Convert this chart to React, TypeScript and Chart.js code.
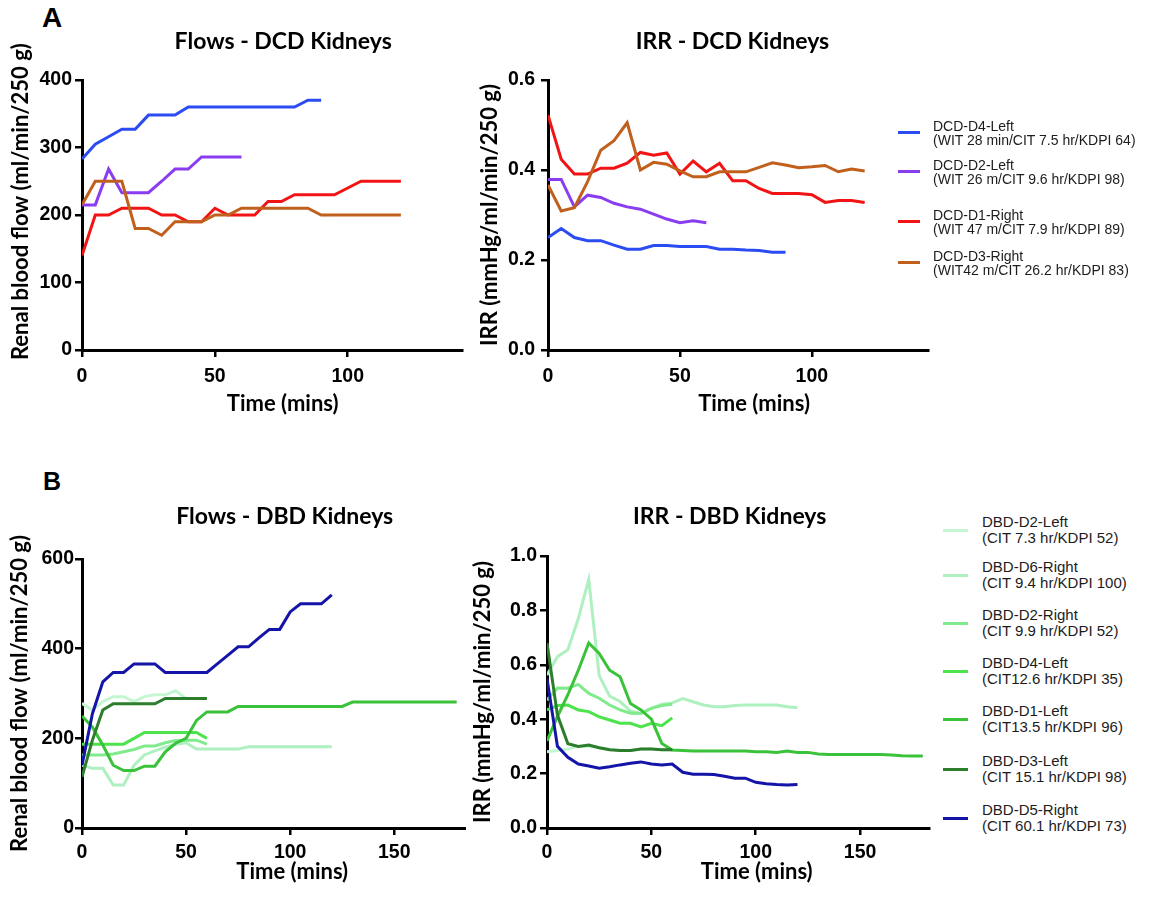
import React, { useEffect, useRef } from "react";
import { Chart, registerables } from "chart.js";

Chart.register(...registerables);

// ---------------- DATA ----------------
const time0to60 = [0, 5, 10, 15, 20, 25, 30, 35, 40, 45, 50, 55, 60];
const time0to90 = [0, 5, 10, 15, 20, 25, 30, 35, 40, 45, 50, 55, 60, 65, 70, 75, 80, 85, 90];
const time0to120 = [0, 5, 10, 15, 20, 25, 30, 35, 40, 45, 50, 55, 60, 65, 70, 75, 80, 85, 90, 95, 100, 105, 110, 115, 120];
const time0to180 = [0, 5, 10, 15, 20, 25, 30, 35, 40, 45, 50, 55, 60, 65, 70, 75, 80, 85, 90, 95, 100, 105, 110, 115, 120, 125, 130, 135, 140, 145, 150, 155, 160, 165, 170, 175, 180];

// Panel A legend
const dcdNames = ["DCD-D4-Left", "DCD-D2-Left", "DCD-D1-Right", "DCD-D3-Right"];
const dcdDetails = [
  "(WIT 28 min/CIT 7.5 hr/KDPI 64)",
  "(WIT 26 m/CIT 9.6 hr/KDPI 98)",
  "(WIT 47 m/CIT 7.9 hr/KDPI 89)",
  "(WIT42 m/CIT 26.2 hr/KDPI 83)",
];
const dcdColors = ["#2b4cf2", "#8a3df0", "#f21414", "#c0601c"];

// Flows - DCD (ml/min/250 g)
const dcdD4LeftFlow = [283, 305, 316, 327, 327, 348, 348, 348, 360, 360, 360, 360, 360, 360, 360, 360, 360, 370, 370];
const dcdD2LeftFlow = [215, 215, 268, 233, 233, 233, 250, 268, 268, 286, 286, 286, 286];
const dcdD1RightFlow = [140, 200, 200, 210, 210, 210, 200, 200, 190, 190, 210, 200, 200, 200, 220, 220, 230, 230, 230, 230, 240, 250, 250, 250, 250];
const dcdD3RightFlow = [215, 250, 250, 250, 180, 180, 170, 190, 190, 190, 200, 200, 210, 210, 210, 210, 210, 210, 200, 200, 200, 200, 200, 200, 200];

// IRR - DCD
const dcdD4LeftIrr = [0.25, 0.27, 0.25, 0.243, 0.243, 0.233, 0.224, 0.224, 0.232, 0.232, 0.23, 0.23, 0.23, 0.224, 0.224, 0.222, 0.221, 0.217, 0.217];
const dcdD2LeftIrr = [0.379, 0.379, 0.318, 0.344, 0.339, 0.326, 0.318, 0.313, 0.302, 0.291, 0.283, 0.287, 0.283];
const dcdD1RightIrr = [0.522, 0.424, 0.391, 0.391, 0.404, 0.404, 0.415, 0.439, 0.433, 0.438, 0.391, 0.42, 0.396, 0.415, 0.376, 0.376, 0.359, 0.348, 0.348, 0.348, 0.345, 0.328, 0.332, 0.332, 0.328];
const dcdD3RightIrr = [0.367, 0.309, 0.316, 0.374, 0.444, 0.465, 0.505, 0.4, 0.417, 0.413, 0.398, 0.385, 0.385, 0.396, 0.396, 0.396, 0.406, 0.416, 0.411, 0.405, 0.407, 0.41, 0.396, 0.402, 0.398];

// Panel B legend
const dbdNames = ["DBD-D2-Left", "DBD-D6-Right", "DBD-D2-Right", "DBD-D4-Left", "DBD-D1-Left", "DBD-D3-Left", "DBD-D5-Right"];
const dbdDetails = [
  "(CIT 7.3 hr/KDPI 52)",
  "(CIT 9.4 hr/KDPI 100)",
  "(CIT 9.9 hr/KDPI 52)",
  "(CIT12.6 hr/KDPI 35)",
  "(CIT13.5 hr/KDPI 96)",
  "(CIT 15.1 hr/KDPI 98)",
  "(CIT 60.1 hr/KDPI 73)",
];
const dbdColors = ["#c4f6d2", "#aef0c0", "#80ea8c", "#4de34d", "#3ac23a", "#2c7d2c", "#1414a8"];

// Flows - DBD (ml/min/250 g)
const dbdD2LeftFlow = [278, 263, 282, 293, 293, 282, 293, 297, 297, 306, 289, 289, 289];
const dbdD6RightFlow = [140, 133, 133, 96, 96, 140, 163, 172, 180, 187, 190, 176, 176, 176, 176, 176, 181, 181, 181, 181, 181, 181, 181, 181, 181];
const dbdD2RightFlow = [163, 163, 163, 165, 170, 175, 183, 183, 190, 195, 196, 196, 187];
const dbdD4LeftFlow = [187, 187, 187, 187, 187, 200, 213, 213, 213, 213, 213, 213, 200];
const dbdD1LeftFlow = [250, 225, 185, 140, 128, 128, 138, 138, 170, 189, 200, 240, 259, 259, 259, 271, 271, 271, 271, 271, 271, 271, 271, 271, 271, 271, 281, 281, 281, 281, 281, 281, 281, 281, 281, 281, 281];
const dbdD3LeftFlow = [114, 196, 263, 277, 277, 277, 277, 277, 289, 289, 289, 289, 289];
const dbdD5RightFlow = [140, 255, 326, 347, 347, 366, 366, 366, 347, 347, 347, 347, 347, 366, 385, 404, 404, 424, 443, 443, 482, 500, 500, 500, 520];

// IRR - DBD
const dbdD2LeftIrr = [0.28, 0.285, 0.29, 0.3, 0.3, 0.295, 0.29, 0.285, 0.285, 0.29, 0.29, 0.288, 0.288];
const dbdD6RightIrr = [0.562, 0.63, 0.655, 0.77, 0.914, 0.56, 0.485, 0.465, 0.43, 0.42, 0.44, 0.455, 0.46, 0.476, 0.464, 0.452, 0.446, 0.446, 0.45, 0.452, 0.452, 0.452, 0.452, 0.446, 0.442];
const dbdD2RightIrr = [0.47, 0.515, 0.514, 0.528, 0.495, 0.477, 0.452, 0.434, 0.422, 0.422, 0.44, 0.45, 0.455];
const dbdD4LeftIrr = [0.434, 0.45, 0.452, 0.434, 0.428, 0.409, 0.397, 0.385, 0.385, 0.372, 0.385, 0.376, 0.405];
const dbdD1LeftIrr = [0.32, 0.41, 0.49, 0.58, 0.68, 0.642, 0.58, 0.556, 0.458, 0.434, 0.4, 0.311, 0.287, 0.285, 0.283, 0.283, 0.283, 0.283, 0.283, 0.283, 0.28, 0.28, 0.278, 0.283, 0.278, 0.278, 0.272, 0.27, 0.27, 0.27, 0.27, 0.27, 0.27, 0.268, 0.266, 0.265, 0.265];
const dbdD3LeftIrr = [0.68, 0.415, 0.31, 0.3, 0.305, 0.295, 0.288, 0.285, 0.285, 0.29, 0.29, 0.288, 0.288];
const dbdD5RightIrr = [0.55, 0.3, 0.26, 0.235, 0.228, 0.22, 0.225, 0.232, 0.238, 0.243, 0.235, 0.232, 0.235, 0.205, 0.198, 0.198, 0.197, 0.19, 0.183, 0.183, 0.168, 0.163, 0.16, 0.158, 0.16];

// ---------------- SERIES TABLES ----------------
const dcdFlowSeries = [
  { times: time0to90, values: dcdD4LeftFlow },
  { times: time0to60, values: dcdD2LeftFlow },
  { times: time0to120, values: dcdD1RightFlow },
  { times: time0to120, values: dcdD3RightFlow },
];
const dcdIrrSeries = [
  { times: time0to90, values: dcdD4LeftIrr },
  { times: time0to60, values: dcdD2LeftIrr },
  { times: time0to120, values: dcdD1RightIrr },
  { times: time0to120, values: dcdD3RightIrr },
];
const dbdFlowSeries = [
  { times: time0to60, values: dbdD2LeftFlow },
  { times: time0to120, values: dbdD6RightFlow },
  { times: time0to60, values: dbdD2RightFlow },
  { times: time0to60, values: dbdD4LeftFlow },
  { times: time0to180, values: dbdD1LeftFlow },
  { times: time0to60, values: dbdD3LeftFlow },
  { times: time0to120, values: dbdD5RightFlow },
];
const dbdIrrSeries = [
  { times: time0to60, values: dbdD2LeftIrr },
  { times: time0to120, values: dbdD6RightIrr },
  { times: time0to60, values: dbdD2RightIrr },
  { times: time0to60, values: dbdD4LeftIrr },
  { times: time0to180, values: dbdD1LeftIrr },
  { times: time0to60, values: dbdD3LeftIrr },
  { times: time0to120, values: dbdD5RightIrr },
];

// ---------------- STYLE ----------------
const SANS = "'Liberation Sans', Arial, Helvetica, sans-serif";
const HEAD = "Lato, 'Open Sans', sans-serif";
const TITLE_SIZE = 23;
const AXIS_TITLE_SIZE = 22;
const TICK_SIZE = 19.5;

function padText(text: string, shift: number, size: number) {
  const c = document.createElement("canvas").getContext("2d")!;
  c.font = `bold ${size}px ${HEAD}`;
  const sw = c.measureText(" ").width || size * 0.2;
  const n = Math.round((Math.abs(shift) * 2) / sw);
  if (n <= 0) return text;
  return shift > 0 ? " ".repeat(n) + text : text + " ".repeat(n);
}

const panels = [
  {
    canvas: { left: 0, top: 0, width: 470, height: 425 },
    plot: { left: 82, top: 80, right: 462, bottom: 350 },
    title: "Flows - DCD Kidneys", titleY: 42, titleShift: 11,
    xMax: 143, yMax: 400, yStep: 100, yDec: 0, yTickPad: 3, xTickPad: 8,
    yTitle: "Renal blood flow (ml/min/250 g)", yTitleX: 21, yTitleUp: 14,
    xTitle: "Time (mins)", xTitleY: 404, xTitleShift: 12,
    series: dcdFlowSeries, colors: dcdColors, names: dcdNames,
  },
  {
    canvas: { left: 470, top: 0, width: 470, height: 425 },
    plot: { left: 548, top: 80, right: 928, bottom: 350 },
    title: "IRR - DCD Kidneys", titleY: 42, titleShift: -6,
    xMax: 144, yMax: 0.6, yStep: 0.2, yDec: 1, yTickPad: 6, xTickPad: 8,
    yTitle: "IRR (mmHg/ml/min/250 g)", yTitleX: 490, yTitleUp: 0,
    xTitle: "Time (mins)", xTitleY: 404, xTitleShift: 16,
    series: dcdIrrSeries, colors: dcdColors, names: dcdNames,
  },
  {
    canvas: { left: 0, top: 440, width: 466, height: 455 },
    plot: { left: 82, top: 559, right: 465, bottom: 828 },
    title: "Flows - DBD Kidneys", titleY: 517, titleShift: 10,
    xMax: 184, yMax: 600, yStep: 200, yDec: 0, yTickPad: 1, xTickPad: 6,
    yTitle: "Renal blood flow (ml/min/250 g)", yTitleX: 20, yTitleUp: 0,
    xTitle: "Time (mins)", xTitleY: 872, xTitleShift: 20,
    series: dbdFlowSeries, colors: dbdColors, names: dbdNames,
  },
  {
    canvas: { left: 466, top: 440, width: 474, height: 455 },
    plot: { left: 547, top: 556, right: 929, bottom: 828 },
    title: "IRR - DBD Kidneys", titleY: 517, titleShift: -8,
    xMax: 183, yMax: 1.0, yStep: 0.2, yDec: 1, yTickPad: 3, xTickPad: 6,
    yTitle: "IRR (mmHg/ml/min/250 g)", yTitleX: 483, yTitleUp: 0,
    xTitle: "Time (mins)", xTitleY: 872, xTitleShift: 19,
    series: dbdIrrSeries, colors: dbdColors, names: dbdNames,
  },
];

function PanelChart({ spec }: { spec: any }) {
  const ref = useRef<HTMLCanvasElement>(null);
  const c = spec.canvas;
  useEffect(() => {
    const p = spec.plot;
    const titleLH = TITLE_SIZE * 1.2;
    const axisLH = AXIS_TITLE_SIZE * 1.2;
    const titlePadTop = spec.titleY - c.top - titleLH / 2;
    const titlePadBottom = p.top - c.top - titlePadTop - titleLH;
    const yAxisWidth = p.left - c.left;
    const xAxisHeight = c.top + c.height - p.bottom;
    const xTitlePadBottom = c.top + c.height - spec.xTitleY - axisLH / 2;
    const yTitlePadTop = spec.yTitleX - c.left - axisLH / 2;
    const n = spec.series.length;
    const axisFont = { family: HEAD, size: AXIS_TITLE_SIZE, weight: "bold" as const, lineHeight: 1.2 };
    const tickFont = { family: SANS, size: TICK_SIZE, weight: "bold" as const };
    const chart = new Chart(ref.current!, {
      type: "line",
      data: {
        datasets: spec.series.map((s: any, i: number) => ({
          label: spec.names[i],
          data: s.values.map((v: number, k: number) => ({ x: s.times[k], y: v })),
          borderColor: spec.colors[i],
          backgroundColor: spec.colors[i],
          borderWidth: 3,
          pointRadius: 0,
          pointHoverRadius: 0,
          tension: 0,
          fill: false,
          order: n - 1 - i,
        })),
      },
      options: {
        responsive: false,
        maintainAspectRatio: false,
        animation: false,
        events: [],
        layout: { padding: { left: 0, top: 0, bottom: 0, right: c.left + c.width - p.right } },
        plugins: {
          legend: { display: false },
          tooltip: { enabled: false },
          title: {
            display: true,
            fullSize: false,
            text: padText(spec.title, spec.titleShift, TITLE_SIZE),
            color: "#000",
            font: { family: HEAD, size: TITLE_SIZE, weight: "bold", lineHeight: 1.2 },
            padding: { top: titlePadTop, bottom: titlePadBottom },
          },
        },
        scales: {
          x: {
            type: "linear",
            min: 0,
            max: spec.xMax,
            afterFit: (s: any) => { s.height = xAxisHeight; },
            border: { display: true, color: "#000", width: 3 },
            grid: { display: true, drawOnChartArea: false, drawTicks: true, tickLength: 7, tickWidth: 2.5, tickColor: "#000", color: "#000", lineWidth: 2.5 },
            ticks: { stepSize: 50, includeBounds: false, color: "#000", font: tickFont, padding: spec.xTickPad, maxRotation: 0, autoSkip: false },
            title: { display: true, text: padText(spec.xTitle, spec.xTitleShift, AXIS_TITLE_SIZE), color: "#000", font: axisFont, padding: { top: 0, bottom: xTitlePadBottom } },
          },
          y: {
            type: "linear",
            min: 0,
            max: spec.yMax,
            afterFit: (s: any) => { s.width = yAxisWidth; },
            border: { display: true, color: "#000", width: 3 },
            grid: { display: true, drawOnChartArea: false, drawTicks: true, tickLength: 7, tickWidth: 2.5, tickColor: "#000", color: "#000", lineWidth: 2.5 },
            ticks: { stepSize: spec.yStep, includeBounds: false, color: "#000", font: tickFont, padding: spec.yTickPad, callback: (v: any) => Number(v).toFixed(spec.yDec) },
            title: { display: true, text: padText(spec.yTitle, spec.yTitleUp, AXIS_TITLE_SIZE), color: "#000", font: axisFont, padding: { top: yTitlePadTop, bottom: 0 } },
          },
        },
      } as any,
    });
    return () => chart.destroy();
  }, []);
  return (
    <canvas
      ref={ref}
      width={c.width}
      height={c.height}
      style={{ position: "absolute", left: c.left, top: c.top, width: c.width, height: c.height }}
    />
  );
}

function Legend({ names, details, colors, swatchX, swatchW, textX, swatchYs, fontSize, lineH, textUp }: any) {
  return (
    <>
      {names.map((name: string, i: number) => (
        <React.Fragment key={name}>
          <div style={{ position: "absolute", left: swatchX, top: swatchYs[i] - 1.5, width: swatchW, height: 3, background: colors[i] }} />
          <div style={{ position: "absolute", left: textX, top: swatchYs[i] - lineH - textUp, fontFamily: SANS, fontSize, lineHeight: `${lineH}px`, color: "#1c1c1c", whiteSpace: "nowrap" }}>
            <div>{name}</div>
            <div>{details[i]}</div>
          </div>
        </React.Fragment>
      ))}
    </>
  );
}

export default function App() {
  return (
    <div style={{ position: "absolute", left: 0, top: 0, width: 1153, height: 897, overflow: "hidden", background: "#fff" }}>
      <div style={{ position: "absolute", left: 42, top: 4, fontFamily: SANS, fontWeight: "bold", fontSize: 28, lineHeight: "28px", color: "#000" }}>A</div>
      <div style={{ position: "absolute", left: 43, top: 469, fontFamily: SANS, fontWeight: "bold", fontSize: 25, lineHeight: "25px", color: "#000" }}>B</div>
      {panels.map((p, i) => (
        <PanelChart key={i} spec={p} />
      ))}
      <Legend names={dcdNames} details={dcdDetails} colors={dcdColors} swatchX={898} swatchW={22} textX={933}
        swatchYs={[132, 171, 221, 262]} fontSize={14} lineH={14} textUp={-1} />
      <Legend names={dbdNames} details={dbdDetails} colors={dbdColors} swatchX={943} swatchW={25} textX={982}
        swatchYs={[530, 575, 623, 671, 719, 769, 818]} fontSize={15} lineH={16} textUp={0} />
    </div>
  );
}
